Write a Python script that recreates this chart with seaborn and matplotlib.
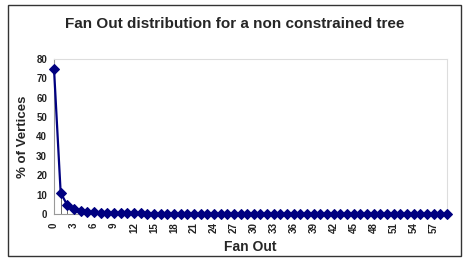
import matplotlib
matplotlib.use("Agg")
import matplotlib.pyplot as plt
import seaborn as sns
import pandas as pd
from matplotlib.patches import Rectangle

sns.set_theme(style="white")
plt.rcParams['font.family'] = ['Liberation Sans', 'DejaVu Sans']

# fan out values 0..59 and share of vertices (%)
fan_out = list(range(60))
head = [75.0, 11.0, 4.5, 2.6, 1.6, 1.2, 0.9, 0.7, 0.55, 0.5,
        0.45, 0.4, 0.35, 0.3, 0.25, 0.2, 0.2, 0.15, 0.15, 0.1]
pct_vertices = head + [0.1] * 10 + [0.05] * 30
tick_labels = [str(v) for v in range(0, 60, 3)]

df = pd.DataFrame({"Fan Out": fan_out, "% of Vertices": pct_vertices})

fig = plt.figure(figsize=(4.69, 2.61), dpi=100)
ax = fig.add_axes([54 / 469, 1 - 214 / 261, (447 - 54) / 469, (214 - 59) / 261])

navy = "#000080"
# thin drop lines seen under the first few points
ax.vlines(fan_out[1:4], 0, pct_vertices[1:4], color="#555555", linewidth=0.6)
sns.lineplot(data=df, x="Fan Out", y="% of Vertices", ax=ax, color=navy,
             linewidth=1.6, marker="D", markersize=5.5, markeredgecolor=navy,
             clip_on=False, zorder=3)

ax.set_xlim(0, 59)
ax.set_ylim(0, 80)
ax.set_yticks(range(0, 81, 10))
ax.set_xticks(range(0, 60, 3))
ax.set_xticklabels(tick_labels, rotation=90)
ax.tick_params(axis='both', labelsize=7, length=2, colors="#222222")
ax.tick_params(axis='x', pad=4)
ax.tick_params(axis='y', pad=3)
for lab in ax.get_xticklabels() + ax.get_yticklabels():
    lab.set_fontweight("bold")

for s in ["left", "bottom"]:
    ax.spines[s].set_color("#999999")
    ax.spines[s].set_linewidth(0.8)
for s in ["top", "right"]:
    ax.spines[s].set_color("#dddddd")
    ax.spines[s].set_linewidth(0.8)

ax.set_xlabel("Fan Out", fontsize=10, fontweight="bold", labelpad=5)
ax.set_ylabel("% of Vertices", fontsize=9.5, fontweight="bold", labelpad=5)
fig.text(0.5, 1 - 24 / 261, "Fan Out distribution for a non constrained tree",
         ha="center", va="center", fontsize=11, fontweight="bold")

fig.patches.append(Rectangle((8 / 469, 5 / 261), 453 / 469, 251 / 261,
                             transform=fig.transFigure, fill=False,
                             edgecolor="#333333", linewidth=1))

fig.savefig("out.png", dpi=100)
